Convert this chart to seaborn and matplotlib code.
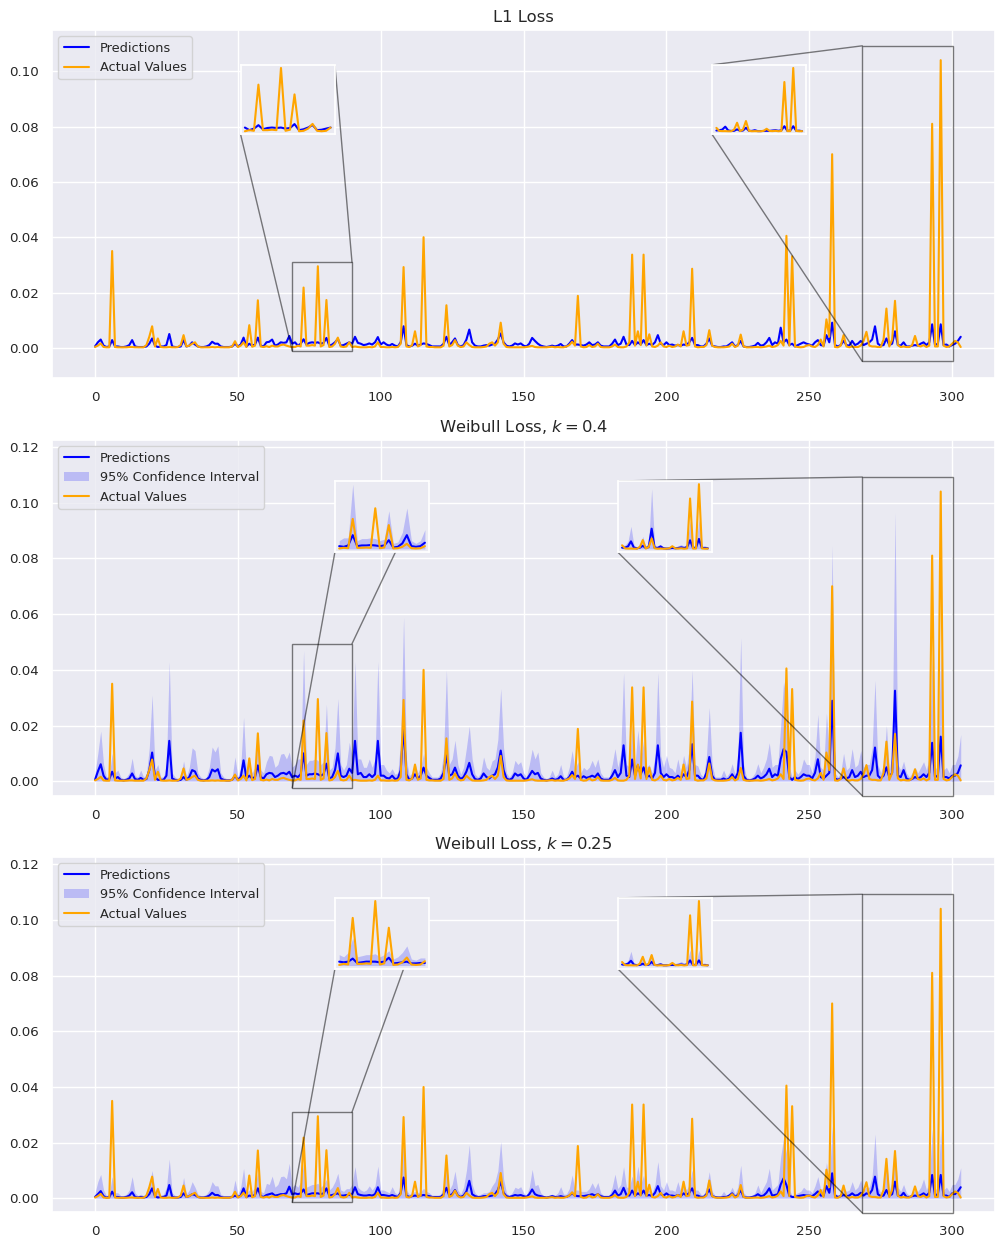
import numpy as np
import matplotlib
matplotlib.use("Agg")
import matplotlib.pyplot as plt
import seaborn as sns
from matplotlib.patches import Rectangle, ConnectionPatch

# ---- data (values in units of 1e-4) ----
actual_e4 = [
    3, 8, 16, 3, 2, 2, 350, 3, 2, 2, 2, 2, 3, 3, 2, 2, 2, 2, 10, 40,
    78, 5, 34, 3, 2, 2, 3, 2, 2, 3, 10, 46, 5, 8, 15, 20, 5, 2, 2, 2,
    2, 3, 2, 3, 2, 2, 2, 2, 5, 24, 3, 8, 20, 3, 82, 4, 8, 172, 5, 3,
    6, 3, 8, 5, 5, 10, 12, 8, 5, 3, 3, 8, 5, 218, 8, 8, 10, 8, 295, 5,
    10, 173, 3, 5, 15, 37, 5, 3, 5, 20, 3, 5, 3, 2, 2, 2, 3, 2, 5, 20,
    3, 3, 2, 2, 3, 2, 3, 15, 292, 5, 3, 10, 60, 5, 10, 400, 5, 3, 3, 2,
    2, 2, 8, 154, 5, 10, 28, 8, 3, 5, 20, 10, 3, 2, 2, 2, 3, 5, 15, 20,
    8, 20, 91, 15, 3, 2, 2, 2, 2, 2, 2, 3, 5, 7, 3, 2, 2, 2, 2, 3,
    4, 2, 3, 2, 2, 5, 10, 22, 8, 188, 5, 2, 3, 10, 3, 5, 15, 3, 2, 2,
    2, 5, 12, 3, 2, 2, 5, 20, 337, 8, 60, 10, 337, 8, 49, 5, 3, 8, 20, 5,
    3, 8, 3, 5, 12, 5, 60, 8, 10, 286, 5, 2, 3, 3, 10, 64, 8, 3, 2, 2,
    2, 3, 5, 15, 3, 8, 48, 5, 2, 2, 2, 3, 3, 2, 3, 5, 8, 3, 5, 10,
    25, 8, 405, 8, 331, 5, 3, 2, 3, 8, 10, 5, 3, 10, 30, 5, 103, 40, 700, 3,
    2, 8, 46, 5, 2, 5, 3, 3, 8, 25, 58, 8, 5, 5, 3, 3, 30, 142, 5, 30,
    170, 10, 3, 5, 3, 3, 10, 43, 8, 5, 10, 3, 8, 810, 5, 5, 1040, 8, 3, 5,
    15, 25, 20, 3,
]

pred_l1_e4 = [
    5, 20, 30, 8, 3, 5, 28, 5, 5, 3, 3, 5, 10, 28, 5, 3, 3, 3, 5, 15,
    34, 8, 3, 5, 5, 10, 50, 5, 3, 3, 5, 28, 5, 8, 20, 12, 5, 3, 3, 5,
    10, 22, 15, 15, 5, 3, 3, 3, 5, 15, 5, 12, 37, 5, 15, 8, 12, 37, 8, 5,
    20, 22, 30, 8, 12, 20, 18, 20, 43, 15, 20, 8, 15, 31, 12, 18, 20, 18, 20, 15,
    18, 36, 8, 12, 20, 32, 8, 10, 15, 20, 15, 40, 18, 15, 10, 12, 16, 12, 20, 39,
    12, 20, 12, 8, 14, 8, 5, 20, 78, 10, 5, 8, 15, 8, 12, 16, 14, 10, 5, 5,
    5, 5, 15, 40, 10, 20, 34, 10, 5, 10, 30, 66, 20, 8, 5, 5, 8, 10, 8, 12,
    15, 30, 52, 20, 8, 5, 8, 16, 12, 16, 8, 5, 15, 36, 25, 15, 8, 5, 3, 5,
    8, 5, 8, 14, 5, 5, 15, 28, 12, 12, 10, 8, 12, 20, 10, 12, 20, 8, 5, 5,
    5, 15, 30, 10, 15, 40, 12, 10, 25, 10, 20, 12, 28, 10, 15, 10, 20, 46, 15, 10,
    20, 10, 12, 8, 10, 8, 12, 10, 20, 36, 10, 10, 5, 5, 15, 34, 8, 5, 3, 3,
    5, 5, 12, 20, 5, 10, 25, 5, 3, 3, 5, 8, 18, 8, 10, 20, 36, 10, 20, 15,
    73, 20, 30, 10, 15, 5, 10, 15, 20, 15, 12, 8, 20, 28, 10, 8, 46, 20, 91, 10,
    5, 10, 25, 10, 8, 25, 10, 15, 25, 10, 15, 20, 30, 78, 15, 8, 10, 34, 10, 15,
    60, 10, 8, 20, 5, 5, 8, 10, 8, 15, 20, 10, 20, 85, 10, 15, 85, 10, 12, 5,
    10, 15, 25, 40,
]

pred_k04_e4 = [
    5, 35, 61, 20, 5, 8, 34, 10, 15, 5, 3, 5, 10, 28, 8, 5, 12, 5, 8, 40,
    103, 15, 5, 5, 5, 20, 145, 10, 5, 3, 5, 15, 5, 15, 40, 35, 10, 5, 3, 5,
    15, 42, 35, 43, 10, 5, 3, 3, 5, 20, 5, 15, 75, 10, 20, 10, 15, 57, 15, 10,
    25, 30, 28, 15, 20, 28, 30, 25, 34, 15, 20, 15, 25, 100, 20, 25, 25, 28, 25, 20,
    25, 63, 10, 15, 40, 100, 20, 15, 20, 45, 30, 145, 25, 30, 15, 15, 25, 15, 25, 145,
    20, 20, 12, 10, 20, 8, 10, 40, 195, 25, 5, 10, 25, 10, 20, 49, 20, 12, 5, 5,
    5, 10, 30, 93, 20, 25, 49, 20, 8, 15, 35, 66, 25, 8, 5, 10, 28, 15, 10, 20,
    25, 50, 110, 40, 10, 5, 10, 28, 20, 25, 10, 5, 20, 37, 25, 30, 10, 5, 3, 5,
    10, 5, 8, 18, 5, 5, 15, 34, 15, 20, 10, 18, 12, 15, 20, 15, 28, 10, 5, 5,
    5, 20, 40, 15, 30, 129, 20, 15, 78, 20, 57, 25, 50, 15, 20, 10, 30, 129, 30, 15,
    25, 15, 15, 10, 20, 10, 25, 15, 40, 133, 20, 20, 8, 5, 30, 87, 20, 5, 5, 5,
    10, 5, 10, 25, 8, 30, 174, 20, 5, 3, 5, 10, 20, 10, 15, 25, 45, 15, 25, 20,
    80, 115, 105, 15, 5, 15, 8, 15, 25, 20, 20, 10, 30, 79, 15, 10, 20, 30, 289, 10,
    5, 10, 15, 10, 15, 40, 15, 20, 34, 15, 20, 20, 40, 121, 20, 10, 20, 50, 15, 30,
    325, 20, 15, 40, 10, 5, 8, 15, 10, 15, 25, 15, 30, 138, 15, 20, 160, 15, 15, 10,
    20, 20, 30, 57,
]

ci_upper_k04_e4 = [
    30, 100, 180, 60, 15, 20, 100, 30, 40, 15, 10, 15, 30, 83, 20, 15, 40, 15, 25, 120,
    310, 40, 60, 15, 15, 60, 430, 30, 15, 10, 15, 73, 15, 50, 120, 110, 30, 15, 10, 15,
    50, 123, 105, 127, 30, 15, 10, 10, 15, 87, 15, 50, 230, 30, 60, 30, 50, 170, 40, 30,
    70, 93, 90, 50, 60, 97, 100, 80, 105, 50, 60, 80, 80, 470, 60, 75, 75, 80, 75, 60,
    70, 277, 40, 50, 120, 297, 60, 40, 60, 140, 90, 430, 80, 80, 50, 50, 80, 50, 80, 430,
    60, 60, 40, 30, 45, 25, 30, 150, 590, 80, 20, 30, 63, 30, 50, 100, 50, 30, 15, 15,
    15, 30, 100, 400, 60, 80, 147, 60, 25, 50, 120, 198, 80, 25, 15, 30, 87, 50, 40, 73,
    80, 150, 333, 120, 30, 15, 30, 75, 60, 70, 30, 15, 60, 115, 80, 105, 30, 15, 10, 15,
    40, 15, 25, 60, 15, 15, 50, 110, 40, 70, 30, 50, 40, 50, 75, 50, 80, 30, 15, 15,
    15, 60, 117, 50, 100, 390, 60, 50, 200, 60, 183, 80, 147, 50, 60, 30, 90, 390, 90, 50,
    93, 50, 45, 30, 80, 30, 93, 50, 120, 400, 60, 55, 25, 15, 90, 265, 60, 15, 15, 15,
    40, 15, 30, 63, 25, 90, 516, 60, 15, 10, 15, 30, 63, 30, 50, 80, 138, 50, 60, 60,
    200, 357, 290, 50, 15, 40, 25, 40, 80, 60, 60, 30, 90, 240, 50, 40, 245, 100, 848, 30,
    15, 30, 100, 40, 50, 117, 50, 60, 110, 50, 60, 60, 120, 363, 60, 30, 60, 200, 40, 100,
    967, 60, 40, 72, 30, 15, 30, 50, 30, 50, 70, 40, 90, 450, 40, 60, 480, 40, 50, 30,
    60, 60, 90, 168,
]

pred_k025_e4 = [
    5, 15, 26, 8, 3, 5, 24, 5, 5, 3, 3, 5, 10, 22, 5, 3, 5, 3, 5, 15,
    36, 8, 3, 5, 5, 10, 48, 5, 3, 3, 5, 18, 5, 8, 15, 12, 5, 3, 3, 5,
    10, 20, 12, 12, 5, 3, 3, 3, 5, 10, 5, 10, 36, 5, 10, 8, 12, 36, 8, 5,
    12, 15, 18, 10, 12, 15, 15, 18, 42, 15, 18, 15, 18, 32, 12, 15, 18, 18, 18, 15,
    18, 36, 10, 12, 15, 18, 10, 10, 12, 12, 15, 40, 15, 12, 10, 10, 12, 10, 15, 40,
    12, 12, 10, 8, 12, 8, 5, 20, 75, 10, 5, 8, 10, 8, 10, 12, 10, 8, 5, 5,
    5, 5, 15, 38, 10, 15, 30, 10, 5, 10, 25, 63, 15, 8, 5, 5, 8, 8, 8, 10,
    15, 30, 60, 20, 8, 5, 8, 12, 10, 12, 8, 5, 15, 32, 15, 10, 8, 5, 3, 5,
    8, 5, 5, 8, 5, 5, 10, 18, 10, 8, 8, 8, 10, 12, 15, 10, 15, 8, 5, 5,
    5, 12, 28, 10, 15, 38, 12, 10, 28, 10, 18, 12, 28, 10, 12, 8, 20, 44, 15, 10,
    18, 10, 10, 8, 12, 8, 18, 10, 20, 36, 10, 10, 5, 5, 15, 32, 8, 5, 3, 3,
    5, 5, 10, 18, 5, 12, 30, 5, 3, 3, 5, 8, 15, 8, 10, 20, 36, 10, 12, 15,
    50, 72, 48, 10, 5, 5, 8, 10, 12, 10, 10, 8, 15, 25, 10, 10, 44, 20, 90, 10,
    5, 8, 12, 8, 10, 18, 10, 12, 20, 10, 18, 15, 30, 78, 15, 8, 10, 30, 10, 15,
    60, 10, 8, 20, 5, 5, 8, 10, 8, 12, 18, 10, 20, 84, 10, 15, 84, 10, 10, 5,
    18, 15, 25, 40,
]

ci_upper_k025_e4 = [
    20, 60, 86, 30, 10, 15, 78, 20, 20, 10, 10, 15, 30, 78, 20, 10, 15, 10, 20, 50,
    100, 25, 20, 10, 15, 40, 141, 20, 10, 10, 15, 75, 15, 30, 60, 40, 15, 10, 10, 15,
    30, 60, 45, 45, 15, 10, 10, 10, 15, 66, 15, 40, 108, 20, 30, 25, 40, 96, 25, 20,
    54, 50, 80, 40, 50, 78, 80, 70, 126, 40, 50, 40, 60, 126, 40, 45, 50, 50, 54, 40,
    50, 68, 30, 40, 60, 90, 30, 25, 35, 35, 50, 114, 40, 30, 25, 30, 45, 30, 45, 116,
    30, 30, 25, 20, 42, 20, 15, 60, 230, 30, 15, 20, 25, 20, 25, 36, 25, 20, 10, 10,
    10, 15, 45, 126, 30, 50, 98, 30, 15, 40, 100, 192, 50, 20, 10, 15, 20, 20, 25, 45,
    60, 100, 204, 70, 20, 10, 20, 40, 35, 42, 20, 10, 40, 104, 45, 50, 20, 10, 8, 10,
    15, 10, 20, 42, 15, 15, 35, 84, 30, 30, 25, 25, 25, 35, 56, 35, 57, 20, 10, 10,
    10, 40, 87, 35, 50, 114, 40, 40, 80, 40, 116, 50, 84, 30, 30, 20, 50, 132, 45, 30,
    60, 30, 30, 25, 60, 25, 50, 30, 50, 102, 30, 30, 15, 10, 40, 96, 25, 10, 10, 10,
    25, 10, 20, 40, 15, 40, 119, 20, 10, 8, 10, 20, 48, 20, 40, 60, 108, 30, 40, 50,
    150, 216, 162, 30, 10, 15, 20, 25, 40, 30, 30, 20, 45, 78, 30, 40, 129, 60, 260, 20,
    10, 20, 40, 25, 30, 60, 30, 40, 66, 30, 40, 40, 80, 231, 40, 20, 40, 138, 30, 60,
    176, 40, 25, 50, 20, 10, 20, 30, 25, 40, 70, 30, 60, 250, 30, 40, 250, 30, 40, 25,
    50, 50, 70, 110,
]

titles = ["L1 Loss", "Weibull Loss, $k = 0.4$", "Weibull Loss, $k = 0.25$"]
zoom_windows = [(70, 90), (270, 300)]

UNIT = 1e-4
actual = np.array(actual_e4) * UNIT
preds = [np.array(pred_l1_e4) * UNIT, np.array(pred_k04_e4) * UNIT,
         np.array(pred_k025_e4) * UNIT]
ci_uppers = [None, np.array(ci_upper_k04_e4) * UNIT, np.array(ci_upper_k025_e4) * UNIT]
x = np.arange(len(actual))

# ---- style ----
sns.set_theme(style="darkgrid")
plt.rcParams["font.family"] = ["DejaVu Sans"]
plt.rcParams["xtick.labelsize"] = 9.6
plt.rcParams["ytick.labelsize"] = 9.6
plt.rcParams["legend.fontsize"] = 9.3
plt.rcParams["axes.titlesize"] = 11.8

DPI = 100
fig = plt.figure(figsize=(997 / DPI, 1236 / DPI), dpi=DPI)
W, H = 997.0, 1236.0
boxes = [(52, 30, 995, 378), (52, 440, 995, 796), (52, 857, 995, 1212)]
ylims = [(-0.0109, 0.1149), (-0.0053, 0.1225), (-0.0049, 0.1226)]
inset_pos = [
    [[0.2, 0.7, 0.1, 0.2], [0.7, 0.7, 0.1, 0.2]],
    [[0.3, 0.685, 0.1, 0.2], [0.6, 0.685, 0.1, 0.2]],
    [[0.3, 0.685, 0.1, 0.2], [0.6, 0.685, 0.1, 0.2]],
]
# connector corners in axes fraction (same corner on inset and on zoom box)
LL, UL, UR = (0, 0), (0, 1), (1, 1)
corners = [[(LL, UR), (LL, UL)], [(LL, UR), (LL, UL)], [(LL, UR), (LL, UL)]]
IND = dict(edgecolor="black", alpha=0.5, linewidth=1.0, zorder=4.99)


def draw(ax, xs, pred, ci, act, legend):
    sns.lineplot(x=xs, y=pred, ax=ax, color="blue", linewidth=1.5,
                 label="Predictions" if legend else None, legend=False)
    if ci is not None:
        ax.fill_between(xs, 0, ci, color="blue", alpha=0.2, linewidth=0,
                        label="95% Confidence Interval" if legend else None)
    sns.lineplot(x=xs, y=act, ax=ax, color="orange", linewidth=1.5,
                 label="Actual Values" if legend else None, legend=False)


for i in range(3):
    l, t, r, b = boxes[i]
    ax = fig.add_axes([l / W, 1 - b / H, (r - l) / W, (b - t) / H])
    draw(ax, x, preds[i], ci_uppers[i], actual, True)
    ax.set_title(titles[i])
    ax.set_xlim(-15.05, 315.0)
    ax.set_ylim(*ylims[i])
    ax.set_xticks([0, 50, 100, 150, 200, 250, 300])
    ax.legend(loc="upper left")
    for j, (s, e) in enumerate(zoom_windows):
        axins = ax.inset_axes(inset_pos[i][j])
        ci = ci_uppers[i][s:e] if ci_uppers[i] is not None else None
        draw(axins, x[s:e], preds[i][s:e], ci, actual[s:e], False)
        axins.set_xticks([])
        axins.set_yticks([])
        axins.set_xlabel("")
        axins.set_ylabel("")
        x0, x1 = axins.get_xlim()
        y0, y1 = axins.get_ylim()
        ax.add_patch(Rectangle((x0, y0), x1 - x0, y1 - y0, fill=False,
                               clip_on=False, **IND))
        for cx, cy in corners[i][j]:
            con = ConnectionPatch(
                xyA=(cx, cy), coordsA=axins.transAxes,
                xyB=(x0 + cx * (x1 - x0), y0 + cy * (y1 - y0)), coordsB=ax.transData,
                **IND)
            con.set_clip_on(False)
            ax.add_artist(con)

fig.savefig("out.png", dpi=DPI)
